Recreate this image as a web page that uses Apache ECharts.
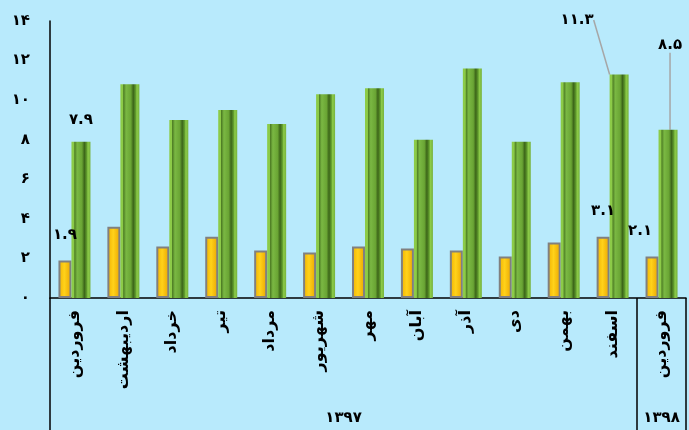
<!DOCTYPE html>
<html><head><meta charset="utf-8">
<script src="https://cdn.jsdelivr.net/npm/echarts@6/dist/echarts.min.js"></script>
<style>html,body{margin:0;padding:0;background:#b8eafc}#c{width:689px;height:430px}</style>
</head><body><div id="c"></div>
<script>
var months = ['فروردین','اردیبهشت','خرداد','تیر','مرداد','شهریور','مهر','آبان','آذر','دی','بهمن','اسفند','فروردین'];
var yellowValues = [1.9, 3.6, 2.6, 3.1, 2.4, 2.3, 2.6, 2.5, 2.4, 2.1, 2.8, 3.1, 2.1];
var greenValues = [7.9, 10.8, 9.0, 9.5, 8.8, 10.3, 10.6, 8.0, 11.6, 7.9, 10.9, 11.3, 8.5];
var yearLabels = ['۱۳۹۷', '۱۳۹۸'];
var yTicks = [0, 2, 4, 6, 8, 10, 12, 14];
var labeledYellow = [0, 11, 12];
var labeledGreen = [0, 11, 12];

function fa(s){ return String(s).replace(/[0-9]/g, function(d){ return '۰۱۲۳۴۵۶۷۸۹'[+d]; }); }
var FONT = "'DejaVu Sans', sans-serif";

// group axis: 27 points, boundaryGap false -> half-category steps
var groupAxisData = [];
for (var i = 0; i < 27; i++) groupAxisData.push('');
groupAxisData[12] = yearLabels[0];
groupAxisData[25] = yearLabels[1];

var yellowStyle = {
  color: {type:'linear', x:0, y:0, x2:1, y2:0, colorStops:[
    {offset:0, color:'#f0b000'},{offset:0.45, color:'#ffd21a'},{offset:1, color:'#e9a300'}]},
  borderColor:'#808080', borderWidth:2
};
var greenStyle = {
  color: {type:'linear', x:0, y:0, x2:1, y2:0, colorStops:[
    {offset:0, color:'#8ccb48'},{offset:0.13, color:'#8ccb48'},
    {offset:0.17, color:'#4f7f25'},{offset:0.3, color:'#7ab843'},
    {offset:0.55, color:'#6aa534'},{offset:0.68, color:'#3c6519'},
    {offset:0.8, color:'#5f9a2c'},{offset:0.87, color:'#8ccb48'},{offset:1, color:'#77b23e'}]}
};

var yellowData = yellowValues.map(function(v, i){
  var d = {value: v};
  if (labeledYellow.indexOf(i) >= 0) {
    d.label = {show:true, position:'top', distance: 18, offset: i === 12 ? [-12, 0] : [0, 0]};
  }
  return d;
});
var greenData = greenValues.map(function(v, i){
  var d = {value: v, labelLine:{show:false}};
  if (labeledGreen.indexOf(i) >= 0) {
    d.label = {show:true, position:'top', distance: i === 0 ? 14 : 5};
    if (i !== 0) d.labelLine = {show:true, lineStyle:{color:'#a6a6a6', width:1.5}};
  }
  return d;
});

var labelCommon = {
  color:'#000', fontFamily: FONT, fontWeight:'bold', fontSize:15,
  formatter: function(p){ return fa(p.value); }
};

var chart = echarts.init(document.getElementById('c'), null, {renderer:'canvas'});
chart.setOption({
  backgroundColor:'#b8eafc',
  animation:false,
  grid:{left:50, top:21, width:640, bottom:132, containLabel:false},
  xAxis:[{
    type:'category', data: months, position:'bottom',
    axisLine:{show:true, lineStyle:{color:'#000', width:1.5}},
    axisTick:{show:true, length:132, lineStyle:{color:'#000', width:1.5},
      interval: function(index){ return index === 0 || index === 12; }},
    axisLabel:{interval:0, rotate:90, margin:12, color:'#000', fontFamily:FONT, fontWeight:'bold', fontSize:16}
  },{
    type:'category', data: groupAxisData, position:'bottom', boundaryGap:false,
    axisLine:{show:false}, axisTick:{show:false},
    axisLabel:{interval:0, margin:113, color:'#000', fontFamily:FONT, fontWeight:'bold', fontSize:15}
  }],
  yAxis:{
    type:'value', min:yTicks[0], max:yTicks[yTicks.length-1], interval:2,
    axisLine:{show:true, lineStyle:{color:'#000', width:1.5}},
    axisTick:{show:false}, splitLine:{show:false},
    axisLabel:{margin:20, color:'#000', fontFamily:FONT, fontWeight:'bold', fontSize:15,
      formatter:function(v){ return fa(v); }}
  },
  series:[{
    type:'bar', data: yellowData, barWidth:13, barGap:'0%',
    itemStyle: yellowStyle, label: labelCommon
  },{
    type:'bar', data: greenData, barWidth:19,
    itemStyle: greenStyle, label: labelCommon,
    labelLayout: function(p){
      if (p.dataIndex === 11) return {dx:-42, dy:-42};
      if (p.dataIndex === 12) return {dx:2, dy:-72};
      return {};
    }
  }]
});
</script></body></html>
